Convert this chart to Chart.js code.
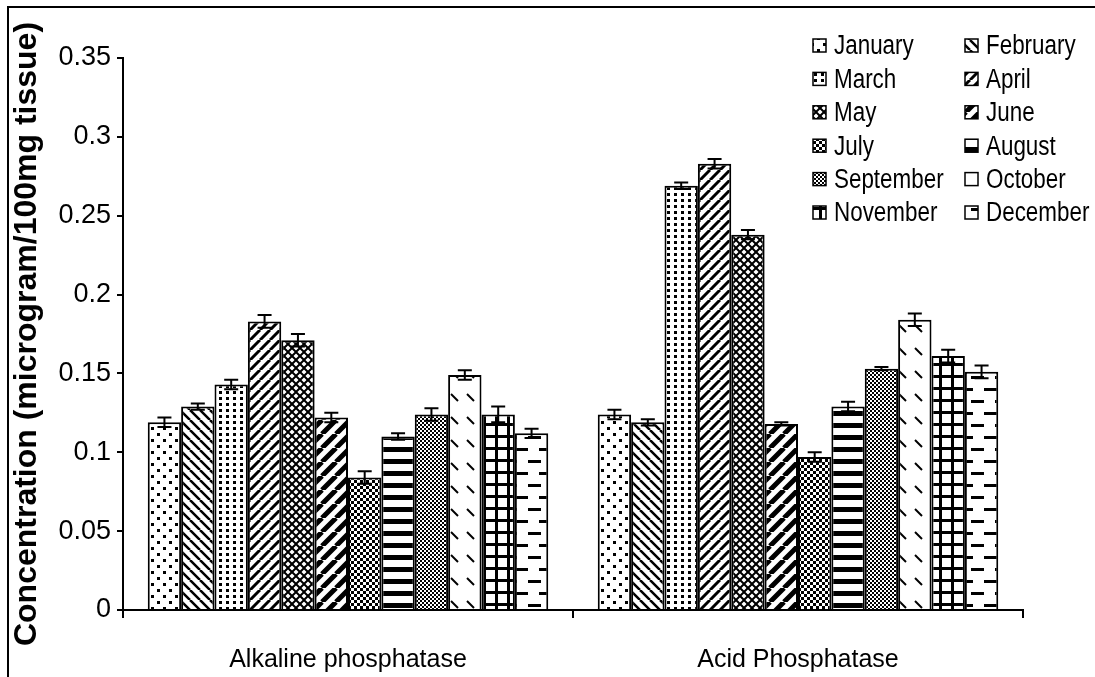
<!DOCTYPE html>
<html>
<head>
<meta charset="utf-8">
<script src="https://cdn.jsdelivr.net/npm/chart.js@4/dist/chart.umd.min.js"></script>
<style>
    html, body { margin: 0; padding: 0; background: #fff; }
    #wrap { position: relative; width: 1095px; height: 677px; }
</style>
</head>
<body>
<div id="wrap"><canvas id="enzymeChart"></canvas></div>
<script>
// --- DATA ---
const categories = ['Alkaline phosphatase', 'Acid Phosphatase'];
const months = ['January', 'February', 'March', 'April', 'May', 'June',
                'July', 'August', 'September', 'October', 'November', 'December'];

const alkaline    = [0.119, 0.129, 0.143, 0.183, 0.171, 0.122, 0.084, 0.110, 0.124, 0.149, 0.124, 0.112];
const alkalineErr = [0.003, 0.002, 0.003, 0.004, 0.004, 0.003, 0.004, 0.002, 0.004, 0.003, 0.005, 0.003];
const acid        = [0.124, 0.119, 0.269, 0.283, 0.238, 0.118, 0.097, 0.129, 0.153, 0.184, 0.161, 0.151];
const acidErr     = [0.003, 0.002, 0.002, 0.003, 0.003, 0.001, 0.003, 0.003, 0.001, 0.004, 0.004, 0.004];

const yTicks      = [0, 0.05, 0.1, 0.15, 0.2, 0.25, 0.3, 0.35];
const yTickLabels = ['0', '0.05', '0.1', '0.15', '0.2', '0.25', '0.3', '0.35'];

const FONT = "'Liberation Sans', Arial, sans-serif";

// legend text in the figure is a narrow face; use it if it's installed
function hasFont(name) {
    const c = document.createElement('canvas').getContext('2d');
    c.font = "40px monospace";
    const base = c.measureText('JanuarySeptember').width;
    c.font = "40px '" + name + "', monospace";
    return c.measureText('JanuarySeptember').width !== base;
}
const NARROW = hasFont('Liberation Sans Narrow');

// --- 1. HATCH PATTERNS (black on white, like the print figure) ---
function makePattern(w, h, draw) {
    const c = document.createElement('canvas');
    c.width = w; c.height = h;
    const g = c.getContext('2d');
    g.fillStyle = '#fff';
    g.fillRect(0, 0, w, h);
    g.fillStyle = '#000';
    g.strokeStyle = '#000';
    draw(g, w, h);
    return g.createPattern(c, 'repeat');
}
function slash(g, s, lw) {          // "/" lines
    g.lineWidth = lw;
    g.beginPath();
    [-s, 0, s].forEach(k => { g.moveTo(k, s); g.lineTo(k + s, 0); });
    g.stroke();
}
function backslash(g, s, lw) {      // "\" lines
    g.lineWidth = lw;
    g.beginPath();
    [-s, 0, s].forEach(k => { g.moveTo(k, 0); g.lineTo(k + s, s); });
    g.stroke();
}
function checker(g, cell) {
    g.fillRect(0, 0, cell, cell);
    g.fillRect(cell, cell, cell, cell);
}

const patterns = [
    makePattern(12, 12, g => { g.fillRect(1, 1, 3, 3); g.fillRect(7, 7, 3, 3); }),      // Jan
    makePattern(10, 10, g => backslash(g, 10, 2.5)),                                    // Feb
    makePattern(7, 6, g => g.fillRect(2, 1, 3, 3)),                                     // Mar
    makePattern(10, 10, g => slash(g, 10, 3)),                                          // Apr
    makePattern(8, 8, g => { slash(g, 8, 2); backslash(g, 8, 2); }),                    // May
    makePattern(14, 14, g => slash(g, 14, 5)),                                          // Jun
    makePattern(6, 6, g => checker(g, 3)),                                              // Jul
    makePattern(12, 12, g => g.fillRect(0, 3, 12, 5)),                                  // Aug
    makePattern(4, 4, g => checker(g, 2)),                                              // Sep
    makePattern(16, 23, g => { g.lineWidth = 2; g.beginPath(); g.moveTo(3, 3); g.lineTo(10, 10); g.stroke(); }), // Oct
    makePattern(12, 12, g => { g.fillRect(3, 0, 3, 12); g.fillRect(0, 3, 12, 3); }),    // Nov
    makePattern(24, 24, g => { g.fillRect(0, 4, 13, 3); g.fillRect(11, 16, 13, 3); })   // Dec
];

// --- 2. ERROR BARS PLUGIN ---
const errorBars = {
    id: 'errorBars',
    afterDatasetsDraw(chart) {
        const ctx = chart.ctx;
        const y = chart.scales.y;
        ctx.save();
        ctx.strokeStyle = '#000';
        ctx.lineWidth = 2;
        chart.data.datasets.forEach((ds, i) => {
            chart.getDatasetMeta(i).data.forEach((bar, j) => {
                const v = ds.data[j], e = ds.err[j];
                const yTop = y.getPixelForValue(v + e);
                const yBot = y.getPixelForValue(v - e);
                ctx.beginPath();
                ctx.moveTo(bar.x, yTop); ctx.lineTo(bar.x, yBot);
                ctx.moveTo(bar.x - 7, yTop); ctx.lineTo(bar.x + 7, yTop);
                ctx.moveTo(bar.x - 7, yBot); ctx.lineTo(bar.x + 7, yBot);
                ctx.stroke();
            });
        });
        ctx.restore();
    }
};

// --- 3. TWO-COLUMN LEGEND + FRAME PLUGIN ---
const sideLegend = {
    id: 'sideLegend',
    afterDraw(chart) {
        const ctx = chart.ctx;
        ctx.save();
        // frame (left + top edge only, the rest is cut off in the figure)
        ctx.fillStyle = '#000';
        ctx.fillRect(7, 6, 2, 677);
        ctx.fillRect(7, 6, 1095, 2);

        ctx.textBaseline = 'middle';
        chart.data.datasets.forEach((ds, i) => {
            const col = i % 2, row = Math.floor(i / 2);
            const bx = col === 0 ? 813 : 965;
            const cy = 46 + row * 33.4;
            ctx.fillStyle = ds.backgroundColor;
            ctx.fillRect(bx, cy - 7, 13, 13);
            ctx.strokeStyle = '#000';
            ctx.lineWidth = 1.5;
            ctx.strokeRect(bx, cy - 7, 13, 13);
            ctx.fillStyle = '#000';
            const tx = bx + 21;
            if (NARROW) {
                ctx.font = "27px 'Liberation Sans Narrow', sans-serif";
                ctx.fillText(ds.label, tx, cy + 1);
            } else {
                // squeeze normal face horizontally to mimic the narrow one
                ctx.font = '27px ' + FONT;
                ctx.save();
                ctx.translate(tx, cy + 1);
                ctx.scale(0.83, 1);
                ctx.fillText(ds.label, 0, 0);
                ctx.restore();
            }
        });
        ctx.restore();
    }
};

// --- 4. CHART ---
const datasets = months.map((m, i) => ({
    label: m,
    data: [alkaline[i], acid[i]],
    err: [alkalineErr[i], acidErr[i]],
    backgroundColor: patterns[i],
    borderColor: '#000',
    borderWidth: 2,
    categoryPercentage: 0.89,
    barPercentage: 1.0
}));

const ctx = document.getElementById('enzymeChart').getContext('2d');
new Chart(ctx, {
    type: 'bar',
    data: { labels: categories, datasets: datasets },
    options: {
        responsive: true,
        maintainAspectRatio: false,
        animation: false,
        layout: { padding: { left: 0, top: 58, right: 72, bottom: 0 } },
        plugins: {
            legend: { display: false },
            tooltip: { enabled: false }
        },
        scales: {
            x: {
                grid: { display: true, drawOnChartArea: false, offset: true, color: '#000', lineWidth: 2, tickLength: 8 },
                border: { display: true, color: '#000', width: 2 },
                ticks: { color: '#000', font: { family: FONT, size: 25 }, padding: 27, maxRotation: 0 },
                afterFit: (s) => { s.height = 67; }
            },
            y: {
                min: 0,
                max: 0.35,
                afterBuildTicks: (s) => { s.ticks = yTicks.map(v => ({ value: v })); },
                grid: { display: true, drawOnChartArea: false, color: '#000', lineWidth: 2, tickLength: 6 },
                border: { display: true, color: '#000', width: 2 },
                ticks: {
                    color: '#000',
                    font: { family: FONT, size: 27 },
                    padding: 6,
                    callback: (v, i) => yTickLabels[i]
                },
                title: {
                    display: true,
                    text: 'Concentration (microgram/100mg tissue)',
                    color: '#000',
                    font: { family: FONT, size: 32, weight: 'bold' },
                    padding: { top: 8, bottom: 0 }
                },
                afterFit: (s) => { s.width = 123; }
            }
        }
    },
    plugins: [errorBars, sideLegend]
});
</script>
</body>
</html>
